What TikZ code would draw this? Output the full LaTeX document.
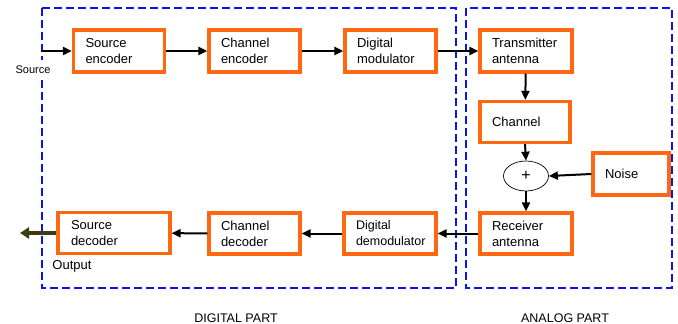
\documentclass[tikz,border=0pt]{standalone}
\usepackage{fontspec}
\setmainfont{Liberation Sans}
\usetikzlibrary{arrows.meta,shapes.geometric}
\definecolor{boxorange}{RGB}{255,104,16}
\definecolor{partblue}{RGB}{10,20,240}
\definecolor{outolive}{RGB}{60,60,20}
\begin{document}
\begin{tikzpicture}[x=1pt, y=-1pt, font=\fontsize{13}{16}\selectfont]
        \tikzset{
            block/.style={
                draw=boxorange,
                line width=3.2pt,
                minimum height=42pt,
                inner xsep=12pt,
                text width=#1,
                align=left
            },
            part/.style={draw=partblue, line width=2pt, dash pattern=on 8pt off 4pt},
            arrow/.style={-{Triangle[length=9pt,width=8pt]}, line width=2pt, draw=black},
            outarrow/.style={-{Triangle[length=9pt,width=11pt]}, line width=3.4pt, draw=outolive},
            partlabel/.style={font=\fontsize{12.5}{14}\selectfont}
        }

        \useasboundingbox (0,0) rectangle (678,324);

        \draw[part] (42,8) rectangle (456,288);
        \draw[part] (466,8) rectangle (672,288);

        \node[block=67pt] (srcenc) at (119,51) {Source\\encoder};
        \node[block=67pt] (chenc) at (254.5,51) {Channel\\encoder};
        \node[block=67pt] (dmod) at (390.5,51) {Digital\\modulator};
        \node[block=68pt] (txant) at (526,51) {Transmitter\\antenna};
        \node[block=66pt, minimum height=41pt] (chan) at (525,122) {Channel\\[3pt]};
        \node[draw, ellipse, line width=0.7pt, minimum width=45pt, minimum height=30pt, inner sep=0pt, font=\fontsize{16}{18}\selectfont] (plus) at (526,176) {+};
        \node[block=52pt] (noise) at (631,174) {Noise};
        \node[block=68pt, minimum height=41pt] (rxant) at (526,233.5) {Receiver\\antenna};
        \node[block=68pt, minimum height=41pt, font=\fontsize{12.5}{16}\selectfont] (ddemod) at (390,233.5) {Digital\\demodulator};
        \node[block=67pt, minimum height=41pt] (chdec) at (254.5,233.5) {Channel\\decoder};
        \node[block=86pt, minimum height=41pt, inner xsep=13pt] (srcdec) at (114,233) {Source\\decoder};

        \coordinate (srcin) at (41,51);
        \coordinate (outend) at (20,233);

        \node[fill=white, inner ysep=6pt, font=\fontsize{11}{12}\selectfont] (srclabel) at (33,70) {Source};
        \node (outlabel) at (72,266) {Output};
        \node[partlabel] (digital) at (236,318) {DIGITAL PART};
        \node[partlabel] (analog) at (565,318) {ANALOG PART};

        \draw[arrow] (srcin) -- (srcenc);
        \draw[arrow] (srcenc) -- (chenc);
        \draw[arrow] (chenc) -- (dmod);
        \draw[arrow] (dmod) -- (txant);
        \draw[arrow] (txant) -- (chan);
        \draw[arrow] (chan.south) -- (plus.north);
        \draw[arrow] (noise.west) -- (plus.east);
        \draw[arrow] (plus.south) -- (rxant.north);
        \draw[arrow] (rxant) -- (ddemod);
        \draw[arrow] (ddemod) -- (chdec);
        \draw[arrow] (chdec) -- (srcdec);
        \draw[outarrow] (srcdec.west) -- (outend);
    \end{tikzpicture}
\end{document}
